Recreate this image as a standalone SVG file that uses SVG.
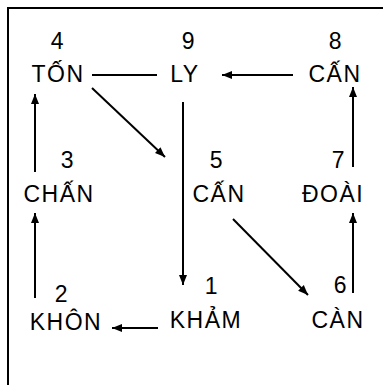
<svg xmlns="http://www.w3.org/2000/svg" width="383" height="385" viewBox="0 0 383 385">
<style>
text{font-family:"Liberation Sans",Arial,sans-serif;font-size:23px;fill:#000;text-anchor:middle;letter-spacing:1.5px}
.c{stroke:#000;stroke-width:2;fill:none}
.f{stroke:#000;stroke-width:2;fill:none}
</style>
<defs>
<marker id="ah" markerUnits="userSpaceOnUse" markerWidth="12" markerHeight="10" refX="10" refY="5" orient="auto">
<path d="M0,1 L10,5 L0,9 Z" fill="#000"/>
</marker>
</defs>
<rect width="383" height="385" fill="#fff"/>
<path class="f" d="M8,385 V8 H383"/>
<g id="n4"><text x="58" y="49">4</text><text x="58" y="82">TỐN</text></g>
<g id="n9"><text x="189" y="49">9</text><text x="185" y="82">LY</text></g>
<g id="n8"><text x="336" y="49">8</text><text x="335" y="82">CẤN</text></g>
<g id="n3"><text x="68" y="168">3</text><text x="59" y="202">CHẤN</text></g>
<g id="n5"><text x="217" y="168">5</text><text x="219" y="202">CẤN</text></g>
<g id="n7"><text x="339" y="168">7</text><text x="333" y="202">ĐOÀI</text></g>
<g id="n2"><text x="62" y="302">2</text><text x="66" y="330">KHÔN</text></g>
<g id="n1"><text x="212" y="294">1</text><text x="206" y="328">KHẢM</text></g>
<g id="n6"><text x="341" y="293">6</text><text x="338" y="328">CÀN</text></g>
<g id="connectors">
<line class="c" x1="92" y1="75" x2="157" y2="75"/>
<line class="c" x1="293" y1="75" x2="222" y2="75" marker-end="url(#ah)"/>
<line class="c" x1="353" y1="167" x2="353" y2="87" marker-end="url(#ah)"/>
<line class="c" x1="92" y1="88" x2="165" y2="157" marker-end="url(#ah)"/>
<line class="c" x1="183" y1="102" x2="183" y2="285" marker-end="url(#ah)"/>
<line class="c" x1="35" y1="172" x2="35" y2="94" marker-end="url(#ah)"/>
<line class="c" x1="353" y1="293" x2="353" y2="213" marker-end="url(#ah)"/>
<line class="c" x1="35" y1="298" x2="35" y2="213" marker-end="url(#ah)"/>
<line class="c" x1="233" y1="219" x2="308" y2="295" marker-end="url(#ah)"/>
<line class="c" x1="158" y1="328" x2="112" y2="328" marker-end="url(#ah)"/>
</g>
</svg>
